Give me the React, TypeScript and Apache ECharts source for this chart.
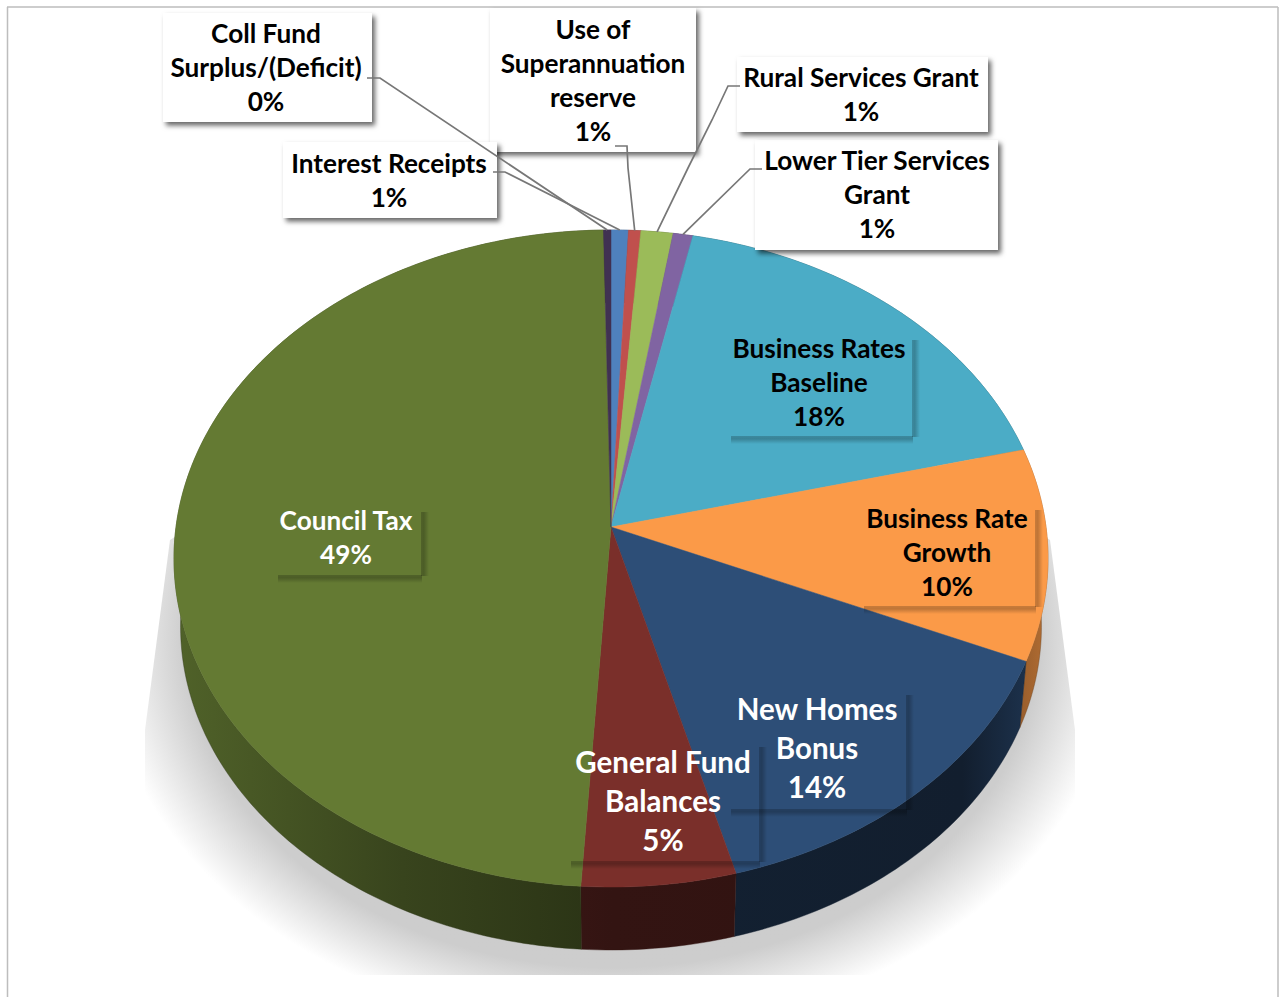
import React, { useEffect, useRef } from "react";
import * as echarts from "echarts";

// Funding sources, clockwise from twelve o'clock.
const categories = [
  "Interest Receipts",
  "Use of Superannuation reserve",
  "Rural Services Grant",
  "Lower Tier Services Grant",
  "Business Rates Baseline",
  "Business Rate Growth",
  "New Homes Bonus",
  "General Fund Balances",
  "Council Tax",
  "Coll Fund Surplus/(Deficit)",
];
const shares = [0.7, 0.5, 1.3, 0.8, 17.8, 10.4, 14.3, 5.2, 48.7, 0.3];
const sliceColors = [
  "#4F81BD", "#C0504D", "#9BBB59", "#8064A2", "#4BACC6",
  "#FB9A48", "#2D4E77", "#7A2F2A", "#647A33", "#403152",
];

// Label wrapping and placement, by slice.
const labelLines = [
  ["Interest Receipts"],
  ["Use of", "Superannuation", "reserve"],
  ["Rural Services Grant"],
  ["Lower Tier Services", "Grant"],
  ["Business Rates", "Baseline"],
  ["Business Rate", "Growth"],
  ["New Homes", "Bonus"],
  ["General Fund", "Balances"],
  ["Council Tax"],
  ["Coll Fund", "Surplus/(Deficit)"],
];
// [left, top, right, bottom, text centre x, first line y, line height, font size]
const labelBoxes = [
  [283, 142, 497, 218, 389, 163, 34, 26.2],
  [490, 8, 696, 152, 593, 29, 34, 26.2],
  [737, 57, 988, 132, 861, 77, 34, 26.2],
  [755, 140, 998, 250, 877, 160, 34, 26.2],
  [727, 335, 913, 437, 819, 348, 34, 26.2],
  [860, 505, 1036, 607, 947, 518, 34, 26.2],
  [727, 690, 907, 810, 817, 708, 39, 29.5],
  [567, 742, 760, 862, 663, 761, 39, 29.5],
  [274, 507, 422, 576, 346, 520, 34, 26.2],
  [163, 13, 372, 122, 266, 33, 34, 26.2],
];
const whiteBoxes = [true, true, true, true, false, false, false, false, false, true];
const lightText = [false, false, false, false, false, false, true, true, true, false];
// Leader elbows; the last point is taken from the slice's own mid angle.
const leaderElbows: (number[][] | null)[] = [
  [[493, 172], [505, 172]],
  [[615, 146], [627, 146], [628, 168]],
  [[740, 86], [728, 86], [712, 120], [688, 168]],
  [[762, 169], [750, 169]],
  null, null, null, null, null,
  [[367, 78], [380, 78]],
];

// Perspective of the disc: apex, half axes and foreshortening.
const APEX_X = 611;
const APEX_Y = 527;
const HALF_W = 435;
const HALF_H = 325.5;
const TILT = 0.0959;
const BASE_SCALE = 0.985;
const BASE_DROP = 68.4;

const total = shares.reduce((a, b) => a + b, 0);
const edges = shares.reduce<number[]>((acc, v) => [...acc, acc[acc.length - 1] + v], [0]);
const toAngle = (cum: number) => (cum / total) * Math.PI * 2;

function project(theta: number, lower = false): number[] {
  const u = 1 + TILT * Math.cos(theta);
  const x = APEX_X + (HALF_W * Math.sin(theta)) / u;
  const y = APEX_Y - (HALF_H * Math.cos(theta)) / u;
  if (!lower) return [x, y];
  return [APEX_X + (x - APEX_X) * BASE_SCALE, APEX_Y + (y - APEX_Y) * BASE_SCALE + BASE_DROP];
}

function arc(i: number, lower = false): number[][] {
  const a = toAngle(edges[i]);
  const b = toAngle(edges[i + 1]);
  const n = Math.max(2, Math.ceil(((b - a) * 180) / Math.PI));
  const pts: number[][] = [];
  for (let k = 0; k <= n; k++) pts.push(project(a + ((b - a) * k) / n, lower));
  return pts;
}

function shade(hex: string, f: number): string {
  const n = parseInt(hex.slice(1), 16);
  const c = [(n >> 16) & 255, (n >> 8) & 255, n & 255].map((v) => Math.round(v * f));
  return `rgb(${c[0]},${c[1]},${c[2]})`;
}

// The rim darkens towards the front of the disc.
function rimFill(color: string) {
  return new echarts.graphic.LinearGradient(
    175, 0, 1050, 0,
    [
      { offset: 0, color: shade(color, 0.8) },
      { offset: 0.26, color: shade(color, 0.56) },
      { offset: 0.5, color: shade(color, 0.42) },
      { offset: 0.9, color: shade(color, 0.39) },
      { offset: 1, color: shade(color, 0.72) },
    ],
    true
  );
}

const FONT = "Lato, 'Open Sans', sans-serif";
const indexData = shares.map((_, i) => [i]);
// Drop shadow along a see-through label box's lower and right edges.
const edgeShadow = (x1: number, y1: number) =>
  new echarts.graphic.LinearGradient(0, 0, x1, y1, [
    { offset: 0, color: "rgba(0,0,0,0.2)" },
    { offset: 0.35, color: "rgba(0,0,0,0.24)" },
    { offset: 1, color: "rgba(0,0,0,0)" },
  ]);

function buildOption() {
  return {
    animation: false,
    backgroundColor: "#ffffff",
    graphic: [
      {
        // Soft cast shadow beneath the disc.
        type: "polygon",
        z: 0,
        shape: {
          points: [
            [611, 260], [170, 540], [145, 730], [145, 975],
            [1075, 975], [1075, 730], [1050, 540],
          ],
        },
        style: {
          fill: new echarts.graphic.RadialGradient(0.502, 0.531, 0.546, [
            { offset: 0, color: "#cbcbcb" },
            { offset: 0.84, color: "#cdcdcd" },
            { offset: 1, color: "#ffffff" },
          ]),
        },
      },
      { type: "line", z: 1, shape: { x1: 7.5, y1: 7, x2: 7.5, y2: 997 }, style: { stroke: "#bdbdbd", lineWidth: 1.5 } },
      { type: "line", z: 1, shape: { x1: 7, y1: 7, x2: 1278, y2: 7 }, style: { stroke: "#bdbdbd", lineWidth: 1.5 } },
      { type: "line", z: 1, shape: { x1: 1278, y1: 7, x2: 1278, y2: 997 }, style: { stroke: "#bdbdbd", lineWidth: 1.5 } },
    ],
    series: [
      {
        type: "custom",
        name: "rim",
        coordinateSystem: "none",
        z: 2,
        silent: true,
        data: indexData,
        renderItem: (_p: any, api: any) => {
          const i = api.value(0);
          return {
            type: "polygon",
            shape: { points: [...arc(i), ...arc(i, true).reverse()] },
            style: { fill: rimFill(sliceColors[i]), stroke: shade(sliceColors[i], 0.42), lineWidth: 0.4 },
          };
        },
      },
      {
        type: "custom",
        name: "slices",
        coordinateSystem: "none",
        z: 3,
        silent: true,
        data: indexData,
        renderItem: (_p: any, api: any) => {
          const i = api.value(0);
          return {
            type: "polygon",
            shape: { points: [[APEX_X, APEX_Y], ...arc(i)] },
            style: { fill: sliceColors[i], stroke: sliceColors[i], lineWidth: 0.5 },
          };
        },
      },
      {
        type: "custom",
        name: "label boxes",
        coordinateSystem: "none",
        z: 4,
        silent: true,
        data: [...indexData].reverse(),
        renderItem: (_p: any, api: any) => {
          const i = api.value(0);
          const [l, t, r, b] = labelBoxes[i];
          if (whiteBoxes[i]) {
            return {
              type: "rect",
              shape: { x: l, y: t, width: r - l, height: b - t },
              style: {
                fill: "#ffffff",
                shadowBlur: 5,
                shadowOffsetX: 3,
                shadowOffsetY: 3.5,
                shadowColor: "rgba(0,0,0,0.6)",
              },
            };
          }
          return {
            type: "group",
            children: [
              {
                type: "rect",
                shape: { x: l + 4, y: b - 1, width: r - l - 4, height: 8 },
                style: { fill: edgeShadow(0, 1) },
              },
              {
                type: "rect",
                shape: { x: r - 1, y: t + 5, width: 8, height: b - t - 5 },
                style: { fill: edgeShadow(1, 0) },
              },
            ],
          };
        },
      },
      {
        type: "custom",
        name: "leaders",
        coordinateSystem: "none",
        z: 5,
        silent: true,
        data: indexData.filter(([i]) => leaderElbows[i]),
        renderItem: (_p: any, api: any) => {
          const i = api.value(0);
          const mid = toAngle((edges[i] + edges[i + 1]) / 2);
          return {
            type: "polyline",
            shape: { points: [...(leaderElbows[i] as number[][]), project(mid)] },
            style: { fill: "none", stroke: "#777777", lineWidth: 1.7 },
          };
        },
      },
      {
        type: "custom",
        name: "labels",
        coordinateSystem: "none",
        z: 6,
        silent: true,
        data: indexData,
        renderItem: (_p: any, api: any) => {
          const i = api.value(0);
          const [, , , , cx, y0, lh, size] = labelBoxes[i];
          const lines = [...labelLines[i], `${Math.round(shares[i])}%`];
          return {
            type: "group",
            children: lines.map((line, k) => ({
              type: "text",
              style: {
                text: line,
                x: cx,
                y: y0 + k * lh,
                fill: lightText[i] ? "#ffffff" : "#000000",
                fontFamily: FONT,
                fontSize: size,
                fontWeight: "bold",
                align: "center",
                verticalAlign: "middle",
              },
            })),
          };
        },
      },
    ],
  };
}

export default function App() {
  const ref = useRef<HTMLDivElement>(null);
  useEffect(() => {
    const chart = echarts.init(ref.current as HTMLDivElement, undefined, { renderer: "svg" });
    chart.setOption(buildOption());
    return () => chart.dispose();
  }, []);
  return (
    <div
      ref={ref}
      aria-label={categories.join(", ")}
      style={{ position: "fixed", left: 0, top: 0, width: 1279, height: 997, background: "#fff" }}
    />
  );
}
